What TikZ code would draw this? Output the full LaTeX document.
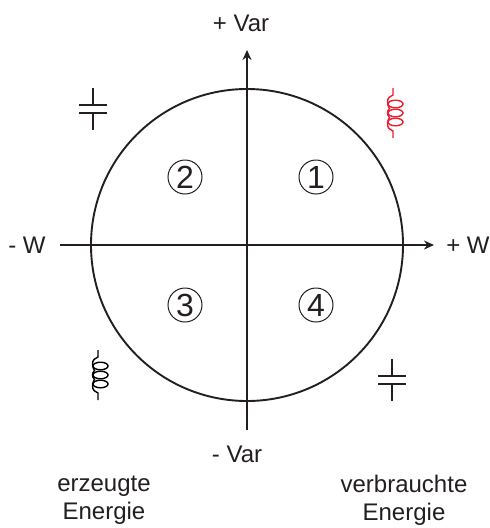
\documentclass[tikz,border=0pt]{standalone}
\usepackage{fontspec}
\setmainfont{Liberation Sans}
\usepackage{xcolor}
\usetikzlibrary{arrows.meta}
\definecolor{ink}{RGB}{35,31,32}
\definecolor{coilred}{RGB}{237,28,46}
\tikzset{
  lbl/.style={text=ink,font=\fontsize{24}{28}\selectfont,inner sep=0pt,align=center},
  num/.style={draw=ink,line width=1pt,circle,minimum size=34pt,inner sep=0pt,text=ink,font=\fontsize{32}{32}\selectfont},
  axis/.style={line width=1.9pt,ink,-{Stealth[length=10pt,width=9pt]}},
  plain/.style={line width=1.9pt,ink},
  capa/.pic={
    \draw[plain] (0,-21) -- (0,-4);
    \draw[plain] (0,4) -- (0,21);
    \draw[plain] (-14,-4) -- (14,-4);
    \draw[plain] (-14,4) -- (14,4);
  },
  coil/.pic={
    \draw[pic actions,line width=1.4pt] (0,-25) -- (0,-18) .. controls (-3,-17) and (-5.5,-15) .. (-5.5,-11)
      .. controls (-5.5,-8) and (-4.5,-6) .. (-3.5,-4.5) .. controls (-5,-3) and (-5.5,-1.5) .. (-5.5,0)
      .. controls (-5.5,1.5) and (-5,3) .. (-3.5,4.5) .. controls (-4.5,6) and (-5.5,8) .. (-5.5,11)
      .. controls (-5.5,15) and (-3,17) .. (0,18) -- (0,25);
    \foreach \yy in {-9,0,9}
      \draw[pic actions,line width=1.4pt] (2.5,\yy) ellipse (7.5 and 3.8);
  }
}
\begin{document}
\begin{tikzpicture}[x=1pt,y=-1pt]
  \useasboundingbox (0,0) rectangle (490,528);

  \path
  (247,245) coordinate (O)
  (60,245) coordinate (west)
  (434,245) coordinate (east)
  (247,430) coordinate (south)
  (247,50) coordinate (north)
  ;

  \draw[plain] (O) circle (156);
  \draw[axis] (west) -- (east);
  \draw[axis] (south) -- (north);

  \node[num] (q1) at (316,177) {1};
  \node[num] (q2) at (185,177) {2};
  \node[num] (q3) at (185,305) {3};
  \node[num] (q4) at (316,305) {4};

  \path (93,109) pic {capa};
  \path (392,380) pic {capa};
  \path[draw=coilred] (393,113) pic[coilred] {coil};
  \path (98,375) pic {coil};

  \node[lbl] (pvar) at (241,23) {+ Var};
  \node[lbl] (mvar) at (237,454) {- Var};
  \node[lbl] (mw) at (27,245) {- W};
  \node[lbl] (pw) at (468,245) {+ W};
  \node[lbl] (gen) at (104,500) {erzeugte\\Energie};
  \node[lbl] (cons) at (404,500) {verbrauchte\\Energie};
\end{tikzpicture}
\end{document}
